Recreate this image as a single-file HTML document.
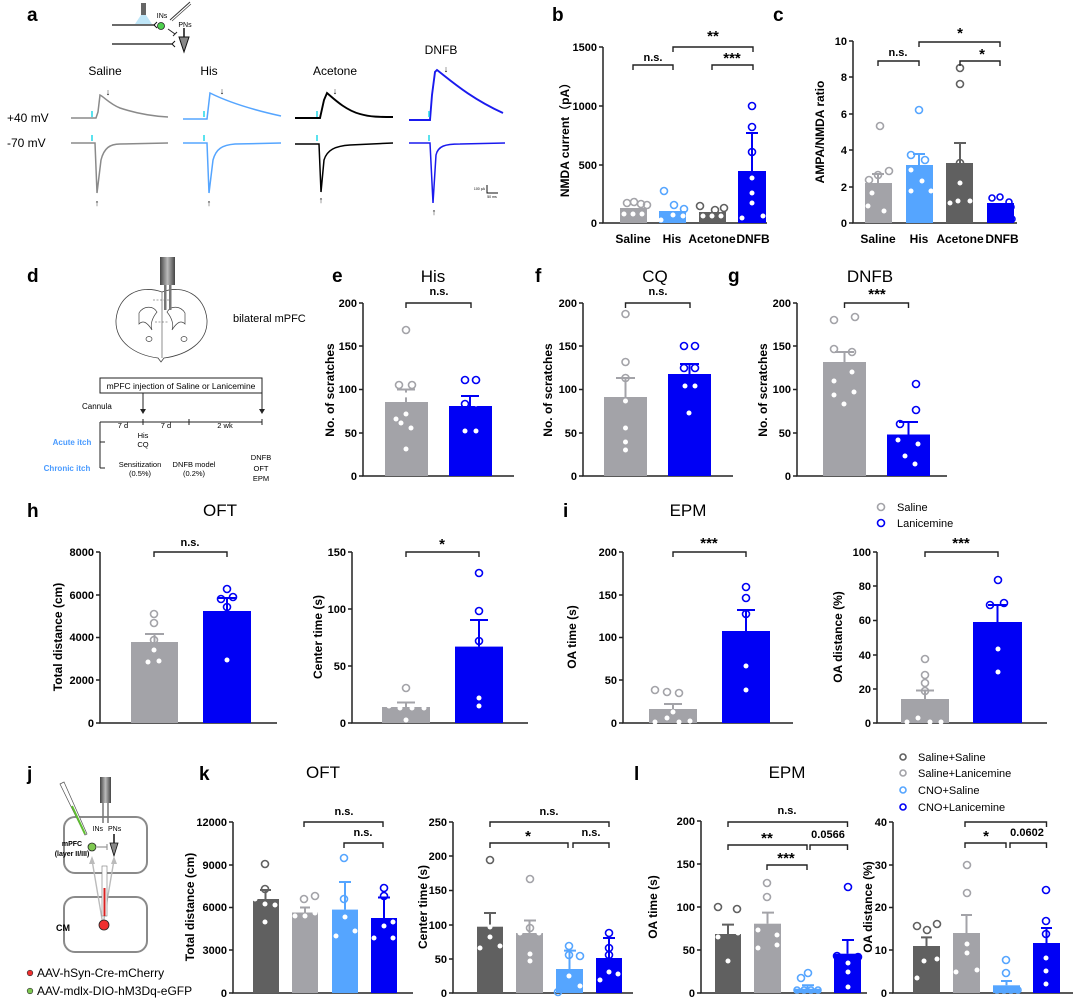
<!DOCTYPE html>
<html><head><meta charset="utf-8"><style>
html,body{margin:0;padding:0;background:#fff}
svg{display:block}
text{font-family:"Liberation Sans","Noto Sans CJK SC",sans-serif}
.t{font-size:11px;font-weight:bold;text-anchor:end}
.yl{font-size:12px;font-weight:bold;text-anchor:middle}
.xl{font-size:12px;font-weight:bold;text-anchor:middle}
.L{font-size:19px;font-weight:bold}
.ti{font-size:17px;text-anchor:middle}
.s{font-size:11px;font-weight:bold;text-anchor:middle}
.st{font-size:15px;font-weight:bold;text-anchor:middle}
.ax{stroke:#222;stroke-width:1.5;fill:none}
.br{stroke:#222;stroke-width:1.4;fill:none}
.g{fill:#a3a3a8}.b{fill:#0000f5}.lb{fill:#55a5ff}.dg{fill:#606060}
.w{fill:#fff}
.og{fill:none;stroke:#a3a3a8;stroke-width:1.6}
.ob{fill:none;stroke:#0000f5;stroke-width:1.6}
.olb{fill:none;stroke:#55a5ff;stroke-width:1.6}
.odg{fill:none;stroke:#606060;stroke-width:1.6}
.sm{font-size:8px;text-anchor:middle}
</style></head><body>
<svg width="1080" height="1003" viewBox="0 0 1080 1003" xmlns="http://www.w3.org/2000/svg">
<!-- ===== Panel a ===== -->
<text class="L" x="27" y="21">a</text>
<rect x="141" y="3" width="5" height="12" fill="#666"/>
<polygon points="141,15 146,15 152,24 135,24" fill="#bfe6f8"/>
<line x1="112" y1="25" x2="155" y2="25" stroke="#111" stroke-width="1.2"/>
<path d="M157,22 L154,25 L157,28" stroke="#111" fill="none"/>
<circle cx="161" cy="26" r="3.5" fill="#4fd04f" stroke="#222" stroke-width="0.8"/>
<text x="162" y="18" font-size="7" text-anchor="middle">INs</text>
<line x1="170" y1="20" x2="190" y2="2" stroke="#333" stroke-width="1"/>
<line x1="172" y1="21" x2="191" y2="4" stroke="#333" stroke-width="0.6"/>
<line x1="168" y1="29" x2="175" y2="34" stroke="#222" stroke-width="1"/>
<line x1="173" y1="36" x2="177" y2="32" stroke="#222" stroke-width="1"/>
<text x="185" y="27" font-size="7" text-anchor="middle">PNs</text>
<line x1="112" y1="44" x2="172" y2="44" stroke="#111" stroke-width="1.2"/>
<path d="M175,41 L172,44 L175,47" stroke="#111" fill="none"/>
<line x1="184" y1="28" x2="184" y2="37" stroke="#111" stroke-width="1.5"/>
<polygon points="179,37 189,37 184,52" fill="#888" stroke="#111" stroke-width="1"/>
<text x="105" y="75" font-size="12" text-anchor="middle">Saline</text>
<text x="209" y="75" font-size="12" text-anchor="middle">His</text>
<text x="335" y="75" font-size="12" text-anchor="middle">Acetone</text>
<text x="441" y="54" font-size="12" text-anchor="middle">DNFB</text>
<text x="7" y="122" font-size="12">+40 mV</text>
<text x="7" y="147" font-size="12">-70 mV</text>
<g fill="none" stroke-width="1.5">
<path stroke="#8a8a8a" d="M71,118 L96,118 L98,112 L100,95 C104,97 110,104 120,108 C135,113 150,116 168,117"/>
<path stroke="#8a8a8a" d="M71,143 L95,143 L97,193 L101,160 C104,148 110,144 120,144 L168,143"/>
<path stroke="#55a5ff" d="M183,119 L207,119 L210,93 C220,98 240,107 281,116"/>
<path stroke="#55a5ff" d="M183,143 L207,143 L209,193 L213,160 C216,149 222,145 235,144 L281,143"/>
<path stroke="#000" stroke-width="1.9" d="M295,118 L320,118 L324,100 L327,93 C333,98 345,110 360,114 C370,117 380,117 393,117"/>
<path stroke="#000" d="M295,144 L319,144 L321,192 L324,160 C327,150 335,146 350,145 L393,143"/>
<path stroke="#1a1aee" stroke-width="1.9" d="M409,120 L430,120 L432,95 L435,72 L437,70 C450,80 470,98 503,113"/>
<path stroke="#1a1aee" d="M409,143 L430,143 L433,203 L436,155 C438,146 445,144 460,144 L505,143"/>
</g>
<g stroke="#22d8e8" stroke-width="1.5">
<line x1="92" y1="111" x2="92" y2="117"/><line x1="92" y1="135" x2="92" y2="141"/>
<line x1="204" y1="111" x2="204" y2="117"/><line x1="204" y1="135" x2="204" y2="141"/>
<line x1="317" y1="111" x2="317" y2="117"/><line x1="317" y1="135" x2="317" y2="141"/>
<line x1="429" y1="111" x2="429" y2="117"/><line x1="429" y1="135" x2="429" y2="141"/>
</g>
<g font-size="9" text-anchor="middle">
<text x="108" y="95">↓</text><text x="222" y="94">↓</text><text x="335" y="94">↓</text><text x="446" y="72">↓</text>
<text x="97" y="206">↑</text><text x="209" y="206">↑</text><text x="321" y="203">↑</text><text x="434" y="215">↑</text>
</g>
<path d="M487,185 V193 H498" stroke="#111" fill="none"/>
<text x="485" y="190" font-size="3.5" text-anchor="end">100 pA</text>
<text x="492" y="198" font-size="3.5" text-anchor="middle">50 ms</text>

<!-- ===== Panel b ===== -->
<text class="L" x="552" y="21">b</text>
<path class="ax" d="M603,47 V223 H767"/>
<g class="ax"><line x1="599" y1="47" x2="603" y2="47"/><line x1="599" y1="106" x2="603" y2="106"/><line x1="599" y1="165" x2="603" y2="165"/><line x1="599" y1="223" x2="603" y2="223"/></g>
<text class="t" x="597" y="51">1500</text><text class="t" x="597" y="110">1000</text><text class="t" x="597" y="169">500</text><text class="t" x="597" y="227">0</text>
<text class="yl" transform="translate(569,137) rotate(-90)">NMDA current（pA）</text>
<rect class="g" x="620" y="208" width="27" height="15"/>
<rect class="lb" x="659" y="211" width="27" height="12"/>
<rect class="dg" x="699" y="212" width="27" height="11"/>
<rect class="b" x="738" y="171" width="28" height="52"/>
<path d="M752,171 V133 M746,133 H758" stroke="#0000f5" stroke-width="2"/>
<circle class="og" cx="627" cy="203" r="3.5"/><circle class="og" cx="634" cy="202" r="3.5"/><circle class="og" cx="641" cy="204" r="3.5"/><circle class="og" cx="647" cy="205" r="3.5"/>
<circle class="w" cx="624" cy="214" r="2.5"/><circle class="w" cx="633" cy="214" r="2.5"/><circle class="w" cx="642" cy="214" r="2.5"/>
<circle class="olb" cx="664" cy="191" r="3.5"/><circle class="olb" cx="674" cy="205" r="3.5"/><circle class="olb" cx="684" cy="209" r="3.5"/>
<circle class="w" cx="661" cy="220" r="2.5"/><circle class="w" cx="673" cy="215" r="2.5"/><circle class="w" cx="683" cy="216" r="2.5"/>
<circle class="odg" cx="700" cy="206" r="3.5"/><circle class="odg" cx="715" cy="210" r="3.5"/><circle class="odg" cx="724" cy="208" r="3.5"/>
<circle class="w" cx="703" cy="216" r="2.5"/><circle class="w" cx="712" cy="216" r="2.5"/><circle class="w" cx="721" cy="216" r="2.5"/>
<circle class="ob" cx="752" cy="106" r="3.5"/><circle class="ob" cx="752" cy="127" r="3.5"/><circle class="ob" cx="752" cy="152" r="3.5"/>
<circle class="w" cx="742" cy="218" r="2.5"/><circle class="w" cx="752" cy="193" r="2.5"/><circle class="w" cx="752" cy="203" r="2.5"/><circle class="w" cx="763" cy="216" r="2.5"/><circle class="w" cx="752" cy="178" r="2.5"/>
<path class="br" d="M633,70 V65 H673 V70"/><text class="s" x="653" y="61">n.s.</text>
<path class="br" d="M673,52 V47 H753 V52"/><text class="st" x="713" y="41">**</text>
<path class="br" d="M712,70 V65 H753 V70"/><text class="st" x="732" y="63">***</text>
<text class="xl" x="633" y="243">Saline</text><text class="xl" x="672" y="243">His</text><text class="xl" x="712" y="243">Acetone</text><text class="xl" x="753" y="243">DNFB</text>

<!-- ===== Panel c ===== -->
<text class="L" x="773" y="21">c</text>
<path class="ax" d="M853,41 V223 H1017"/>
<g class="ax"><line x1="849" y1="41" x2="853" y2="41"/><line x1="849" y1="77" x2="853" y2="77"/><line x1="849" y1="114" x2="853" y2="114"/><line x1="849" y1="150" x2="853" y2="150"/><line x1="849" y1="187" x2="853" y2="187"/><line x1="849" y1="223" x2="853" y2="223"/></g>
<text class="t" x="847" y="45">10</text><text class="t" x="847" y="81">8</text><text class="t" x="847" y="118">6</text><text class="t" x="847" y="154">4</text><text class="t" x="847" y="191">2</text><text class="t" x="847" y="227">0</text>
<text class="yl" transform="translate(824,132) rotate(-90)">AMPA/NMDA ratio</text>
<rect class="g" x="865" y="183" width="27" height="40"/>
<rect class="lb" x="906" y="165" width="27" height="58"/>
<rect class="dg" x="946" y="163" width="27" height="60"/>
<rect class="b" x="987" y="203" width="27" height="20"/>
<path d="M878,183 V174 M872,174 H884" stroke="#a3a3a8" stroke-width="2"/>
<path d="M919,165 V154 M913,154 H925" stroke="#55a5ff" stroke-width="2"/>
<path d="M960,163 V143 M954,143 H966" stroke="#606060" stroke-width="2"/>
<circle class="og" cx="869" cy="180" r="3.5"/><circle class="og" cx="878" cy="175" r="3.5"/><circle class="og" cx="889" cy="171" r="3.5"/><circle class="og" cx="880" cy="126" r="3.5"/>
<circle class="w" cx="868" cy="206" r="2.5"/><circle class="w" cx="884" cy="211" r="2.5"/><circle class="w" cx="872" cy="193" r="2.5"/>
<circle class="olb" cx="911" cy="155" r="3.5"/><circle class="olb" cx="925" cy="160" r="3.5"/><circle class="olb" cx="919" cy="110" r="3.5"/>
<circle class="w" cx="911" cy="191" r="2.5"/><circle class="w" cx="922" cy="181" r="2.5"/><circle class="w" cx="931" cy="191" r="2.5"/><circle class="w" cx="911" cy="170" r="2.5"/>
<circle class="odg" cx="960" cy="68" r="3.5"/><circle class="odg" cx="960" cy="84" r="3.5"/><circle class="odg" cx="960" cy="163" r="3.5"/>
<circle class="w" cx="950" cy="203" r="2.5"/><circle class="w" cx="960" cy="183" r="2.5"/><circle class="w" cx="970" cy="201" r="2.5"/><circle class="w" cx="958" cy="201" r="2.5"/>
<circle class="ob" cx="992" cy="198" r="3"/><circle class="ob" cx="1000" cy="197" r="3"/><circle class="ob" cx="1009" cy="202" r="3"/><circle class="ob" cx="992" cy="208" r="3"/><circle class="ob" cx="1001" cy="209" r="3"/><circle class="ob" cx="1011" cy="207" r="3"/><circle class="ob" cx="994" cy="219" r="3"/><circle class="ob" cx="1006" cy="217" r="3"/><circle class="ob" cx="1012" cy="219" r="3"/>
<path class="br" d="M878,66 V61 H919 V66"/><text class="s" x="898" y="56">n.s.</text>
<path class="br" d="M919,47 V42 H1000 V47"/><text class="st" x="960" y="38">*</text>
<path class="br" d="M960,66 V61 H1000 V66"/><text class="st" x="982" y="59">*</text>
<text class="xl" x="878" y="243">Saline</text><text class="xl" x="919" y="243">His</text><text class="xl" x="960" y="243">Acetone</text><text class="xl" x="1002" y="243">DNFB</text>

<!-- ===== Panel d ===== -->
<text class="L" x="27" y="282">d</text>
<path d="M162,292 C140,284 118,295 116,320 C115,342 135,355 158,358 L161,362 L164,358 C187,355 208,342 207,320 C205,295 183,284 162,292 Z" fill="#fff" stroke="#444" stroke-width="0.8"/>
<path d="M139,313 C143,306 153,305 157,312 C152,318 150,325 152,330 C147,322 143,320 139,324 Z M185,313 C181,306 171,305 167,312 C172,318 174,325 172,330 C177,322 181,320 185,324 Z" fill="#fff" stroke="#444" stroke-width="0.7"/>
<line x1="162" y1="292" x2="162" y2="358" stroke="#444" stroke-width="0.6"/>
<path d="M153,300 L171,300 M155,322 L169,322" stroke="#444" stroke-width="0.5" stroke-dasharray="2,1.5"/>
<ellipse cx="149" cy="339" rx="3" ry="2.5" fill="none" stroke="#444" stroke-width="0.7"/><ellipse cx="184" cy="339" rx="3" ry="2.5" fill="none" stroke="#444" stroke-width="0.7"/>
<defs><linearGradient id="cg" x1="0" x2="1"><stop offset="0" stop-color="#444"/><stop offset="0.5" stop-color="#bbb"/><stop offset="1" stop-color="#444"/></linearGradient></defs>
<rect x="160" y="257" width="15" height="28" fill="url(#cg)"/>
<rect x="164" y="285" width="2.5" height="25" fill="#777"/><rect x="169" y="285" width="2.5" height="25" fill="#777"/>
<text x="233" y="322" font-size="11">bilateral mPFC</text>
<rect x="100" y="378" width="162" height="15" fill="#fff" stroke="#222" stroke-width="1"/>
<text x="181" y="389" font-size="8.5" text-anchor="middle">mPFC injection of Saline or Lanicemine</text>
<path d="M143,393 V411 M262,393 V411" stroke="#222" stroke-width="1"/>
<polygon points="140,409 146,409 143,414" fill="#222"/><polygon points="259,409 265,409 262,414" fill="#222"/>
<text x="82" y="409" font-size="8" text-anchor="start">Cannula</text>
<path d="M100,422 H262 M143,419 V425 M189,419 V425 M262,419 V425 M100,422 V468 M100,442 H105 M100,468 H105" stroke="#222" stroke-width="1" fill="none"/>
<g font-size="7.5" text-anchor="middle">
<text x="123" y="428">7 d</text><text x="166" y="428">7 d</text><text x="225" y="428">2 wk</text>
<text x="143" y="438">His</text><text x="143" y="447">CQ</text>
<text x="140" y="467">Sensitization</text><text x="140" y="476">(0.5%)</text>
<text x="194" y="467">DNFB model</text><text x="194" y="476">(0.2%)</text>
<text x="261" y="460">DNFB</text><text x="261" y="471">OFT</text><text x="261" y="481">EPM</text>
</g>
<text x="72" y="445" font-size="8" font-weight="bold" fill="#4a9bff" text-anchor="middle">Acute itch</text>
<text x="67" y="471" font-size="8" font-weight="bold" fill="#4a9bff" text-anchor="middle">Chronic itch</text>

<!-- ===== Panels e f g ===== -->
<text class="L" x="332" y="282">e</text><text class="ti" x="433" y="282">His</text>
<text class="L" x="535" y="282">f</text><text class="ti" x="655" y="282">CQ</text>
<text class="L" x="728" y="282">g</text><text class="ti" x="870" y="282">DNFB</text>
<g>
<path class="ax" d="M363,303 V476 H514"/>
<path class="ax" d="M583,303 V476 H733"/>
<path class="ax" d="M797,303 V476 H947"/>
<g class="ax">
<path d="M359,303 H363 M359,346 H363 M359,389.5 H363 M359,433 H363 M359,476 H363"/>
<path d="M579,303 H583 M579,346 H583 M579,389.5 H583 M579,433 H583 M579,476 H583"/>
<path d="M793,303 H797 M793,346 H797 M793,389.5 H797 M793,433 H797 M793,476 H797"/>
</g>
<g class="t">
<text x="357" y="307">200</text><text x="357" y="350">150</text><text x="357" y="393">100</text><text x="357" y="437">50</text><text x="357" y="480">0</text>
<text x="577" y="307">200</text><text x="577" y="350">150</text><text x="577" y="393">100</text><text x="577" y="437">50</text><text x="577" y="480">0</text>
<text x="791" y="307">200</text><text x="791" y="350">150</text><text x="791" y="393">100</text><text x="791" y="437">50</text><text x="791" y="480">0</text>
</g>
<text class="yl" transform="translate(334,390) rotate(-90)">No. of scratches</text>
<text class="yl" transform="translate(552,390) rotate(-90)">No. of scratches</text>
<text class="yl" transform="translate(767,390) rotate(-90)">No. of scratches</text>
</g>
<rect class="g" x="385" y="402" width="43" height="74"/><rect class="b" x="449" y="406" width="43" height="70"/>
<path d="M406,402 V389.5 M397,389.5 H415" stroke="#a3a3a8" stroke-width="2"/><path d="M470,406 V396 M461,396 H479" stroke="#0000f5" stroke-width="2"/>
<circle class="og" cx="406" cy="330" r="3.5"/><circle class="og" cx="399" cy="385" r="3.5"/><circle class="og" cx="412" cy="385" r="3.5"/>
<circle class="w" cx="406" cy="395" r="2.5"/><circle class="w" cx="406" cy="414" r="2.5"/><circle class="w" cx="401" cy="423" r="2.5"/><circle class="w" cx="411" cy="428" r="2.5"/><circle class="w" cx="396" cy="419" r="2.5"/><circle class="w" cx="406" cy="449" r="2.5"/>
<circle class="ob" cx="465" cy="380" r="3.5"/><circle class="ob" cx="476" cy="380" r="3.5"/><circle class="ob" cx="465" cy="404" r="3.5"/>
<circle class="w" cx="476" cy="404" r="2.5"/><circle class="w" cx="465" cy="431" r="2.5"/><circle class="w" cx="476" cy="431" r="2.5"/>
<path class="br" d="M406,308 V303 H471 V308"/><text class="s" x="439" y="295">n.s.</text>
<rect class="g" x="604" y="397" width="43" height="79"/><rect class="b" x="668" y="374" width="43" height="102"/>
<path d="M625.5,397 V378 M616,378 H635" stroke="#a3a3a8" stroke-width="2"/><path d="M689.5,374 V364 M680,364 H699" stroke="#0000f5" stroke-width="2"/>
<circle class="og" cx="625.5" cy="314" r="3.5"/><circle class="og" cx="625.5" cy="362" r="3.5"/><circle class="og" cx="625.5" cy="378" r="3.5"/>
<circle class="w" cx="625.5" cy="401" r="2.5"/><circle class="w" cx="625.5" cy="428" r="2.5"/><circle class="w" cx="625.5" cy="442" r="2.5"/><circle class="w" cx="625.5" cy="450" r="2.5"/>
<circle class="ob" cx="684" cy="346" r="3.5"/><circle class="ob" cx="695" cy="346" r="3.5"/><circle class="ob" cx="684" cy="368" r="3.5"/><circle class="ob" cx="695" cy="368" r="3.5"/>
<circle class="w" cx="685" cy="386" r="2.5"/><circle class="w" cx="695" cy="386" r="2.5"/><circle class="w" cx="689" cy="413" r="2.5"/>
<path class="br" d="M625.5,308 V303 H690 V308"/><text class="s" x="658" y="295">n.s.</text>
<rect class="g" x="823" y="362" width="43" height="114"/><rect class="b" x="887" y="434.5" width="43" height="41.5"/>
<path d="M844.5,362 V352 M835,352 H854" stroke="#a3a3a8" stroke-width="2"/><path d="M908.5,434.5 V422 M899,422 H918" stroke="#0000f5" stroke-width="2"/>
<circle class="og" cx="834" cy="320" r="3.5"/><circle class="og" cx="855" cy="317" r="3.5"/><circle class="og" cx="834" cy="349" r="3.5"/><circle class="og" cx="852" cy="352" r="3.5"/>
<circle class="w" cx="834" cy="381" r="2.5"/><circle class="w" cx="852" cy="372" r="2.5"/><circle class="w" cx="834" cy="395" r="2.5"/><circle class="w" cx="854" cy="392" r="2.5"/><circle class="w" cx="844" cy="404" r="2.5"/>
<circle class="ob" cx="916" cy="384" r="3.5"/><circle class="ob" cx="916" cy="410" r="3.5"/><circle class="ob" cx="900" cy="424" r="3.5"/>
<circle class="w" cx="898" cy="440" r="2.5"/><circle class="w" cx="918" cy="444" r="2.5"/><circle class="w" cx="905" cy="456" r="2.5"/><circle class="w" cx="915" cy="464" r="2.5"/>
<path class="br" d="M844.5,308 V303 H908.5 V308"/><text class="st" x="877" y="299">***</text>

<!-- ===== Panel h ===== -->
<text class="L" x="27" y="517">h</text><text class="ti" x="220" y="516">OFT</text>
<path class="ax" d="M100,552 V723 H277"/>
<path class="ax" d="M96,552 H100 M96,595 H100 M96,637.5 H100 M96,680 H100 M96,723 H100"/>
<g class="t"><text x="94" y="556">8000</text><text x="94" y="599">6000</text><text x="94" y="641">4000</text><text x="94" y="684">2000</text><text x="94" y="727">0</text></g>
<text class="yl" transform="translate(62,637) rotate(-90)">Total distance (cm)</text>
<rect class="g" x="131" y="642" width="47" height="81"/><rect class="b" x="203" y="611" width="48" height="112"/>
<path d="M154.5,642 V634 M145,634 H164" stroke="#a3a3a8" stroke-width="2"/><path d="M227,611 V598 M218,598 H236" stroke="#0000f5" stroke-width="2"/>
<circle class="og" cx="154" cy="614" r="3.5"/><circle class="og" cx="154" cy="623" r="3.5"/><circle class="og" cx="154" cy="640" r="3.5"/>
<circle class="w" cx="154" cy="650" r="2.5"/><circle class="w" cx="148" cy="662" r="2.5"/><circle class="w" cx="159" cy="661" r="2.5"/>
<circle class="ob" cx="227" cy="589" r="3.5"/><circle class="ob" cx="221" cy="599" r="3.5"/><circle class="ob" cx="233" cy="597" r="3.5"/><circle class="ob" cx="227" cy="607" r="3.5"/>
<circle class="w" cx="227" cy="660" r="2.5"/>
<path class="br" d="M154,557 V552 H227 V557"/><text class="s" x="190" y="546">n.s.</text>
<path class="ax" d="M352,552 V723 H528"/>
<path class="ax" d="M348,552 H352 M348,609 H352 M348,666 H352 M348,723 H352"/>
<g class="t"><text x="346" y="556">150</text><text x="346" y="613">100</text><text x="346" y="670">50</text><text x="346" y="727">0</text></g>
<text class="yl" transform="translate(322,637) rotate(-90)">Center time (s)</text>
<rect class="g" x="382" y="707" width="48" height="16"/><rect class="b" x="455" y="646.6" width="48" height="76.4"/>
<path d="M406,707 V702.5 M397,702.5 H415" stroke="#a3a3a8" stroke-width="2"/><path d="M479,646.6 V620 M470,620 H488" stroke="#0000f5" stroke-width="2"/>
<circle class="og" cx="406" cy="688" r="3.5"/>
<circle class="w" cx="389" cy="706" r="2.5"/><circle class="w" cx="400" cy="708" r="2.5"/><circle class="w" cx="412" cy="708" r="2.5"/><circle class="w" cx="424" cy="708" r="2.5"/><circle class="w" cx="406" cy="720" r="2.5"/>
<circle class="ob" cx="479" cy="573" r="3.5"/><circle class="ob" cx="479" cy="611" r="3.5"/><circle class="ob" cx="479" cy="641" r="3.5"/>
<circle class="w" cx="479" cy="698" r="2.5"/><circle class="w" cx="479" cy="706" r="2.5"/>
<path class="br" d="M406,557 V552 H479 V557"/><text class="st" x="442" y="549">*</text>

<!-- ===== Panel i ===== -->
<text class="L" x="563" y="517">i</text><text class="ti" x="688" y="516">EPM</text>
<circle class="og" cx="881" cy="507" r="3.5"/><text x="897" y="511" font-size="11">Saline</text>
<circle class="ob" cx="881" cy="523" r="3.5"/><text x="897" y="527" font-size="11">Lanicemine</text>
<path class="ax" d="M623,552 V723 H793"/>
<path class="ax" d="M619,552 H623 M619,595 H623 M619,637.5 H623 M619,680 H623 M619,723 H623"/>
<g class="t"><text x="617" y="556">200</text><text x="617" y="599">150</text><text x="617" y="641">100</text><text x="617" y="684">50</text><text x="617" y="727">0</text></g>
<text class="yl" transform="translate(576,637) rotate(-90)">OA time (s)</text>
<rect class="g" x="649" y="709" width="48" height="14"/><rect class="b" x="722" y="631" width="48" height="92"/>
<path d="M673,709 V704 M664,704 H682" stroke="#a3a3a8" stroke-width="2"/><path d="M746,631 V610 M737,610 H755" stroke="#0000f5" stroke-width="2"/>
<circle class="og" cx="655" cy="690" r="3.5"/><circle class="og" cx="667" cy="692" r="3.5"/><circle class="og" cx="679" cy="693" r="3.5"/>
<circle class="w" cx="655" cy="722" r="2.5"/><circle class="w" cx="667" cy="718" r="2.5"/><circle class="w" cx="673" cy="712" r="2.5"/><circle class="w" cx="679" cy="722" r="2.5"/><circle class="w" cx="690" cy="721" r="2.5"/>
<circle class="ob" cx="746" cy="587" r="3.5"/><circle class="ob" cx="746" cy="598" r="3.5"/><circle class="ob" cx="746" cy="614" r="3.5"/>
<circle class="w" cx="746" cy="666" r="2.5"/><circle class="w" cx="746" cy="690" r="2.5"/>
<path class="br" d="M673,557 V552 H746 V557"/><text class="st" x="709" y="548">***</text>
<path class="ax" d="M877,552 V723 H1047"/>
<path class="ax" d="M873,552 H877 M873,586 H877 M873,620.5 H877 M873,655 H877 M873,689 H877 M873,723 H877"/>
<g class="t"><text x="871" y="556">100</text><text x="871" y="590">80</text><text x="871" y="624">60</text><text x="871" y="659">40</text><text x="871" y="693">20</text><text x="871" y="727">0</text></g>
<text class="yl" transform="translate(842,637) rotate(-90)">OA distance (%)</text>
<rect class="g" x="901" y="699" width="48" height="24"/><rect class="b" x="973" y="622" width="49" height="101"/>
<path d="M925,699 V690.5 M916,690.5 H934" stroke="#a3a3a8" stroke-width="2"/><path d="M997.5,622 V605 M988,605 H1007" stroke="#0000f5" stroke-width="2"/>
<circle class="og" cx="925" cy="659" r="3.5"/><circle class="og" cx="925" cy="675" r="3.5"/><circle class="og" cx="925" cy="683" r="3.5"/><circle class="og" cx="925" cy="691" r="3.5"/>
<circle class="w" cx="907" cy="722" r="2.5"/><circle class="w" cx="918" cy="718" r="2.5"/><circle class="w" cx="930" cy="722" r="2.5"/><circle class="w" cx="941" cy="722" r="2.5"/>
<circle class="ob" cx="998" cy="580" r="3.5"/><circle class="ob" cx="990" cy="605" r="3.5"/><circle class="ob" cx="1004" cy="603" r="3.5"/>
<circle class="w" cx="998" cy="649" r="2.5"/><circle class="w" cx="998" cy="672" r="2.5"/>
<path class="br" d="M925,557 V552 H998 V557"/><text class="st" x="961" y="548">***</text>

<!-- ===== Panel j ===== -->
<text class="L" x="27" y="780">j</text>
<rect x="64" y="817" width="83" height="56" rx="11" fill="none" stroke="#8a8a8a" stroke-width="2"/>
<rect x="64" y="897" width="83" height="55" rx="11" fill="none" stroke="#8a8a8a" stroke-width="2"/>
<rect x="100" y="777" width="11" height="26" fill="url(#cg)"/>
<path d="M103,803 V823 M108,803 V823" stroke="#777" stroke-width="1.5"/>
<polygon points="60,784 64,782 87,834 85,835" fill="#fff" stroke="#555" stroke-width="0.7"/>
<line x1="72" y1="806" x2="85" y2="834" stroke="#5fbf2f" stroke-width="2"/>
<text x="103" y="831" font-size="7" text-anchor="end">INs</text><text x="108" y="831" font-size="7">PNs</text>
<text x="72" y="846" font-size="7" font-weight="bold" text-anchor="middle">mPFC</text>
<text x="72" y="856" font-size="7" font-weight="bold" text-anchor="middle">(layer II/III)</text>
<circle cx="92" cy="847" r="4" fill="#7ec850" stroke="#222" stroke-width="0.8"/>
<path d="M97,847 H107 M107,844 V850" stroke="#999" stroke-width="1.2"/>
<path d="M114,834 V843" stroke="#111" stroke-width="1.5"/>
<polygon points="110,843 118,843 114,856" fill="#888" stroke="#111" stroke-width="0.8"/>
<path d="M103,925 L92,860 M103,925 L114,860" stroke="#bbb" stroke-width="1.4"/>
<polygon points="89,864 92,856 95,864" fill="#bbb"/><polygon points="111,864 114,856 117,864" fill="#bbb"/>
<rect x="102" y="866" width="5" height="50" fill="#fff" stroke="#777" stroke-width="0.6"/>
<rect x="103.5" y="888" width="2" height="28" fill="#d62020"/>
<circle cx="104" cy="925" r="5" fill="#f03030" stroke="#222" stroke-width="0.8"/>
<text x="56" y="931" font-size="9" font-weight="bold">CM</text>
<circle cx="30" cy="973" r="2.8" fill="#f03030" stroke="#333" stroke-width="0.6"/><text x="37" y="977" font-size="12">AAV-hSyn-Cre-mCherry</text>
<circle cx="30" cy="991" r="2.8" fill="#7ec850" stroke="#333" stroke-width="0.6"/><text x="37" y="995" font-size="12">AAV-mdlx-DIO-hM3Dq-eGFP</text>

<!-- ===== Panel k ===== -->
<text class="L" x="199" y="780">k</text><text class="ti" x="323" y="778">OFT</text>
<path class="ax" d="M233,822 V993 H413"/>
<path class="ax" d="M229,822 H233 M229,865 H233 M229,907.5 H233 M229,950 H233 M229,993 H233"/>
<g class="t"><text x="227" y="826">12000</text><text x="227" y="869">9000</text><text x="227" y="911">6000</text><text x="227" y="954">3000</text><text x="227" y="997">0</text></g>
<text class="yl" transform="translate(194,907) rotate(-90)">Total distance (cm)</text>
<rect class="dg" x="253" y="899" width="26" height="94"/><rect class="g" x="292" y="912.5" width="26" height="80.5"/><rect class="lb" x="332" y="909.6" width="26" height="83.4"/><rect class="b" x="371" y="918" width="26" height="75"/>
<path d="M265.5,899 V890 M260,890 H271" stroke="#606060" stroke-width="2"/><path d="M305,912.5 V907.5 M300,907.5 H310" stroke="#a3a3a8" stroke-width="2"/><path d="M345,909.6 V882 M339,882 H351" stroke="#55a5ff" stroke-width="2"/><path d="M384,918 V897.5 M378,897.5 H390" stroke="#0000f5" stroke-width="2"/>
<circle class="odg" cx="265" cy="864" r="3.5"/><circle class="odg" cx="265" cy="889" r="3.5"/><circle class="w" cx="255" cy="899" r="2.5"/><circle class="w" cx="275" cy="905" r="2.5"/><circle class="w" cx="265" cy="922" r="2.5"/><circle class="w" cx="265" cy="904" r="2.5"/>
<circle class="og" cx="304" cy="899" r="3.5"/><circle class="og" cx="315" cy="896" r="3.5"/><circle class="w" cx="295" cy="916" r="2.5"/><circle class="w" cx="305" cy="916" r="2.5"/><circle class="w" cx="315" cy="913" r="2.5"/>
<circle class="olb" cx="344" cy="858" r="3.5"/><circle class="olb" cx="344" cy="899" r="3.5"/><circle class="w" cx="336" cy="936" r="2.5"/><circle class="w" cx="345" cy="917" r="2.5"/><circle class="w" cx="355" cy="931" r="2.5"/>
<circle class="ob" cx="384" cy="888" r="3.5"/><circle class="ob" cx="384" cy="896" r="3.5"/><circle class="w" cx="374" cy="938" r="2.5"/><circle class="w" cx="393" cy="922" r="2.5"/><circle class="w" cx="393" cy="938" r="2.5"/><circle class="w" cx="384" cy="926" r="2.5"/>
<path class="br" d="M304,827 V822 H383 V827"/><text class="s" x="344" y="815">n.s.</text>
<path class="br" d="M344,848 V843 H383 V848"/><text class="s" x="363" y="836">n.s.</text>
<path class="ax" d="M453,822 V993 H633"/>
<path class="ax" d="M449,822 H453 M449,856 H453 M449,890.5 H453 M449,925 H453 M449,959 H453 M449,993 H453"/>
<g class="t"><text x="447" y="826">250</text><text x="447" y="860">200</text><text x="447" y="894">150</text><text x="447" y="929">100</text><text x="447" y="963">50</text><text x="447" y="997">0</text></g>
<text class="yl" transform="translate(427,907) rotate(-90)">Center time (s)</text>
<rect class="dg" x="477" y="926.7" width="26" height="66.3"/><rect class="g" x="516" y="933" width="27" height="60"/><rect class="lb" x="556" y="969" width="27" height="24"/><rect class="b" x="596" y="958" width="26" height="35"/>
<path d="M490,926.7 V913 M484,913 H496" stroke="#606060" stroke-width="2"/><path d="M529.5,933 V920.5 M524,920.5 H536" stroke="#a3a3a8" stroke-width="2"/><path d="M569.5,969 V950.6 M564,950.6 H576" stroke="#55a5ff" stroke-width="2"/><path d="M609,958 V938 M603,938 H615" stroke="#0000f5" stroke-width="2"/>
<circle class="odg" cx="490" cy="860" r="3.5"/><circle class="w" cx="490" cy="927" r="2.5"/><circle class="w" cx="480" cy="948" r="2.5"/><circle class="w" cx="500" cy="946" r="2.5"/><circle class="w" cx="490" cy="937" r="2.5"/>
<circle class="og" cx="530" cy="879" r="3.5"/><circle class="og" cx="530" cy="928" r="3.5"/><circle class="w" cx="520" cy="933" r="2.5"/><circle class="w" cx="539" cy="933" r="2.5"/><circle class="w" cx="530" cy="954" r="2.5"/><circle class="w" cx="530" cy="961" r="2.5"/>
<circle class="olb" cx="569" cy="946" r="3.5"/><circle class="olb" cx="569" cy="955" r="3.5"/><circle class="olb" cx="580" cy="956" r="3.5"/><circle class="olb" cx="558" cy="992" r="3.5"/><circle class="w" cx="569" cy="976" r="2.5"/><circle class="w" cx="580" cy="986" r="2.5"/>
<circle class="ob" cx="609" cy="933" r="3.5"/><circle class="ob" cx="609" cy="948" r="3.5"/><circle class="ob" cx="609" cy="955" r="3.5"/><circle class="w" cx="600" cy="980" r="2.5"/><circle class="w" cx="609" cy="972" r="2.5"/><circle class="w" cx="618" cy="974" r="2.5"/>
<path class="br" d="M490,827 V822 H609 V827"/><text class="s" x="549" y="815">n.s.</text>
<path class="br" d="M490,848 V843 H568 V848"/><text class="st" x="528" y="841">*</text>
<path class="br" d="M573,848 V843 H609 V848"/><text class="s" x="591" y="836">n.s.</text>

<!-- ===== Panel l ===== -->
<text class="L" x="634" y="780">l</text><text class="ti" x="787" y="778">EPM</text>
<g font-size="11">
<circle class="odg" cx="903" cy="757" r="3"/><text x="918" y="761">Saline+Saline</text>
<circle class="og" cx="903" cy="773" r="3"/><text x="918" y="777">Saline+Lanicemine</text>
<circle class="olb" cx="903" cy="790" r="3"/><text x="918" y="794">CNO+Saline</text>
<circle class="ob" cx="903" cy="807" r="3"/><text x="918" y="811">CNO+Lanicemine</text>
</g>
<path class="ax" d="M701,821 V993 H867"/>
<path class="ax" d="M697,821 H701 M697,864 H701 M697,907 H701 M697,950 H701 M697,993 H701"/>
<g class="t"><text x="695" y="825">200</text><text x="695" y="868">150</text><text x="695" y="911">100</text><text x="695" y="954">50</text><text x="695" y="997">0</text></g>
<text class="yl" transform="translate(657,907) rotate(-90)">OA time (s)</text>
<rect class="dg" x="715" y="934" width="26" height="59"/><rect class="g" x="754" y="923.7" width="27" height="69.3"/><rect class="lb" x="794" y="988.7" width="27" height="4.3"/><rect class="b" x="834" y="953.7" width="27" height="39.3"/>
<path d="M728,934 V924.6 M722,924.6 H734" stroke="#606060" stroke-width="2"/><path d="M767.5,923.7 V912.6 M762,912.6 H774" stroke="#a3a3a8" stroke-width="2"/><path d="M807.5,988.7 V985.3 M802,985.3 H814" stroke="#55a5ff" stroke-width="2"/><path d="M847.5,953.7 V940 M842,940 H854" stroke="#0000f5" stroke-width="2"/>
<circle class="odg" cx="718" cy="907" r="3.5"/><circle class="odg" cx="737" cy="909" r="3.5"/><circle class="w" cx="718" cy="937" r="2.5"/><circle class="w" cx="738" cy="933" r="2.5"/><circle class="w" cx="728" cy="961" r="2.5"/>
<circle class="og" cx="767" cy="883" r="3.5"/><circle class="og" cx="767" cy="897" r="3.5"/><circle class="w" cx="758" cy="930" r="2.5"/><circle class="w" cx="777" cy="935" r="2.5"/><circle class="w" cx="758" cy="948" r="2.5"/><circle class="w" cx="777" cy="945" r="2.5"/>
<circle class="olb" cx="801" cy="978" r="3.5"/><circle class="olb" cx="808" cy="973" r="3.5"/><circle class="olb" cx="797" cy="990" r="3"/><circle class="olb" cx="804" cy="990" r="3"/><circle class="olb" cx="811" cy="990" r="3"/><circle class="olb" cx="818" cy="990" r="3"/>
<circle class="ob" cx="848" cy="887" r="3.5"/><circle class="ob" cx="837" cy="956" r="3.5"/><circle class="ob" cx="858" cy="957" r="3.5"/><circle class="w" cx="848" cy="963" r="2.5"/><circle class="w" cx="848" cy="972" r="2.5"/><circle class="w" cx="848" cy="987" r="2.5"/>
<path class="br" d="M728,827 V822 H847.5 V827"/><text class="s" x="787" y="814">n.s.</text>
<path class="br" d="M728,850 V845 H807 V850"/><text class="st" x="767" y="843">**</text>
<path class="br" d="M810,850 V845 H847.5 V850"/><text class="s" x="828" y="838">0.0566</text>
<path class="br" d="M767,870 V865 H807 V870"/><text class="st" x="786" y="863">***</text>
<path class="ax" d="M893,822 V993 H1073"/>
<path class="ax" d="M889,822 H893 M889,865 H893 M889,907.5 H893 M889,950 H893 M889,993 H893"/>
<g class="t"><text x="887" y="826">40</text><text x="887" y="869">30</text><text x="887" y="911">20</text><text x="887" y="954">10</text><text x="887" y="997">0</text></g>
<text class="yl" transform="translate(872,907) rotate(-90)">OA distance (%)</text>
<rect class="dg" x="913" y="946" width="27" height="47"/><rect class="g" x="953" y="933" width="27" height="60"/><rect class="lb" x="993" y="985.3" width="27" height="7.7"/><rect class="b" x="1033" y="943" width="27" height="50"/>
<path d="M926.5,946 V937.4 M921,937.4 H932" stroke="#606060" stroke-width="2"/><path d="M966.5,933 V915 M961,915 H972" stroke="#a3a3a8" stroke-width="2"/><path d="M1006.5,985.3 V981 M1001,981 H1012" stroke="#55a5ff" stroke-width="2"/><path d="M1046.5,943 V928 M1041,928 H1052" stroke="#0000f5" stroke-width="2"/>
<circle class="odg" cx="917" cy="926" r="3.5"/><circle class="odg" cx="927" cy="930" r="3.5"/><circle class="odg" cx="937" cy="924" r="3.5"/><circle class="w" cx="924" cy="961" r="2.5"/><circle class="w" cx="937" cy="959" r="2.5"/><circle class="w" cx="917" cy="978" r="2.5"/>
<circle class="og" cx="967" cy="865" r="3.5"/><circle class="og" cx="967" cy="893" r="3.5"/><circle class="w" cx="967" cy="944" r="2.5"/><circle class="w" cx="967" cy="953" r="2.5"/><circle class="w" cx="956" cy="972" r="2.5"/><circle class="w" cx="977" cy="970" r="2.5"/>
<circle class="olb" cx="1006" cy="960" r="3.5"/><circle class="olb" cx="1006" cy="973" r="3.5"/><circle class="olb" cx="997" cy="990" r="3"/><circle class="olb" cx="1004" cy="990" r="3"/><circle class="olb" cx="1011" cy="990" r="3"/><circle class="olb" cx="1018" cy="990" r="3"/>
<circle class="ob" cx="1046" cy="890" r="3.5"/><circle class="ob" cx="1046" cy="921" r="3.5"/><circle class="ob" cx="1046" cy="934" r="3.5"/><circle class="w" cx="1046" cy="958" r="2.5"/><circle class="w" cx="1046" cy="971" r="2.5"/><circle class="w" cx="1046" cy="984" r="2.5"/>
<path class="br" d="M965,827 V822 H1046.5 V827"/>
<path class="br" d="M965,848 V843 H1006 V848"/><text class="st" x="986" y="841">*</text>
<path class="br" d="M1010,848 V843 H1046.5 V848"/><text class="s" x="1027" y="836">0.0602</text>
</svg>
</body></html>
